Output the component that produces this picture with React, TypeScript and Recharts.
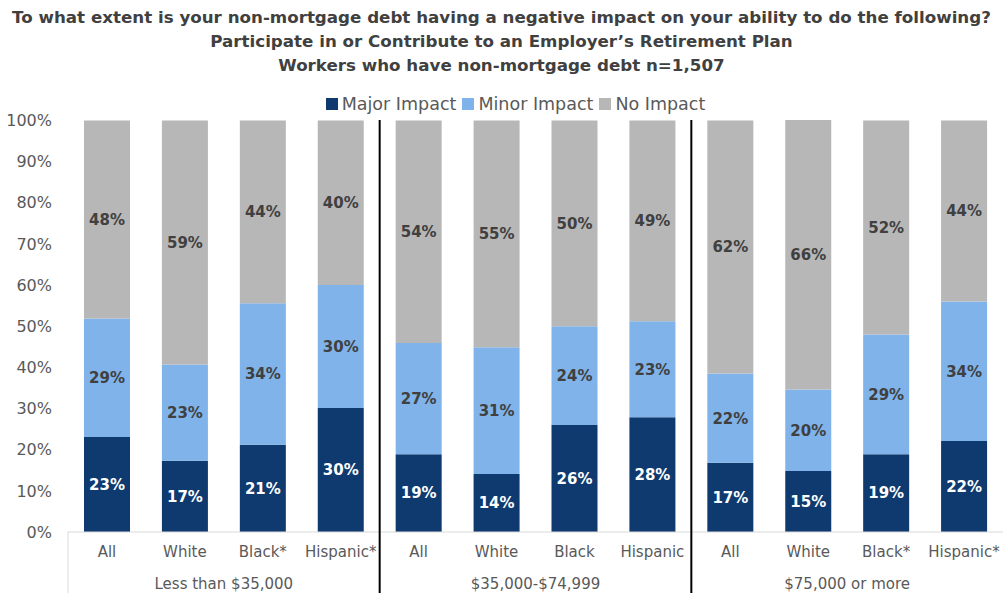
import React from 'react';
import { BarChart, Bar, XAxis, YAxis, LabelList } from 'recharts';

const categories = ['All', 'White', 'Black*', 'Hispanic*', 'All', 'White', 'Black', 'Hispanic', 'All', 'White', 'Black*', 'Hispanic*'];
const groups = [
  'Less than $35,000', 'Less than $35,000', 'Less than $35,000', 'Less than $35,000',
  '$35,000-$74,999', '$35,000-$74,999', '$35,000-$74,999', '$35,000-$74,999',
  '$75,000 or more', '$75,000 or more', '$75,000 or more', '$75,000 or more',
];
const majorImpact = [23.1, 17.3, 21.2, 30.1, 18.9, 14.1, 26.0, 27.9, 16.8, 14.8, 18.9, 22.1];
const minorImpact = [28.8, 23.4, 34.4, 29.9, 27.0, 30.8, 24.0, 23.3, 21.7, 19.8, 29.1, 33.9];
const noImpact = [48.1, 59.3, 44.4, 40.0, 54.1, 55.1, 50.0, 48.8, 61.5, 65.5, 52.0, 44.0];
const yTicks = [0, 10, 20, 30, 40, 50, 60, 70, 80, 90, 100];

const titleLines = [
  'To what extent is your non-mortgage debt having a negative impact on your ability to do the following?',
  'Participate in or Contribute to an Employer\u2019s Retirement Plan',
  'Workers who have non-mortgage debt n=1,507',
];

const seriesInfo = [
  { key: 'major', name: 'Major Impact', color: '#0E3A6F', label: '#FFFFFF' },
  { key: 'minor', name: 'Minor Impact', color: '#7FB3EA', label: '#404040' },
  { key: 'none', name: 'No Impact', color: '#B7B7B7', label: '#404040' },
];

const data = categories.map((c, i) => ({
  cat: c,
  grp: groups[i],
  major: majorImpact[i],
  minor: minorImpact[i],
  none: noImpact[i],
}));

const FONT = '"DejaVu Sans", sans-serif';
const CHART_W = 1003;
const CHART_H = 593;
const PLOT_TOP = 120;
const AXIS1_H = 30;
const AXIS2_H = 31;
const fmt = (v: any) => `${Math.round(Number(v))}%`;

const GroupTick = (props: any) => {
  const { x, y, payload, index, width, visibleTicksCount } = props;
  const count = visibleTicksCount || 3;
  const gw = width / count;
  const left = x - gw / 2;
  return (
    <g>
      {index === 0 ? (
        <line x1={left} x2={left} y1={CHART_H - AXIS1_H - AXIS2_H} y2={CHART_H} stroke="#D9D9D9" strokeWidth={1} />
      ) : (
        <line x1={left} x2={left} y1={PLOT_TOP} y2={CHART_H} stroke="#000000" strokeWidth={2} />
      )}
      <text x={x} y={y} dy="0.71em" textAnchor="middle" fill="#595959" fontSize={15} fontFamily={FONT}>
        {payload.value}
      </text>
    </g>
  );
};

export default function App() {
  return (
    <div style={{ position: 'absolute', left: 0, top: 0, width: CHART_W, height: CHART_H, background: '#fff', fontFamily: FONT }}>
      <div style={{ position: 'absolute', left: 0, top: 5, width: CHART_W, textAlign: 'center', color: '#404040', fontWeight: 'bold', fontSize: 16.7, lineHeight: '24px' }}>
        {titleLines.map((t, i) => (
          <div key={i}>{t}</div>
        ))}
      </div>
      <div style={{ position: 'absolute', left: 17, top: 94, width: CHART_W, display: 'flex', justifyContent: 'center', alignItems: 'center', color: '#595959', fontSize: 17.5 }}>
        {seriesInfo.map((s) => (
          <div key={s.key} style={{ display: 'flex', alignItems: 'center', marginRight: 6 }}>
            <span style={{ display: 'inline-block', width: 12, height: 12, background: s.color, marginRight: 4 }} />
            <span>{s.name}</span>
          </div>
        ))}
      </div>
      <BarChart
        width={CHART_W}
        height={CHART_H}
        data={data}
        margin={{ top: PLOT_TOP, right: 0, left: 0, bottom: 0 }}
        barSize={46}
        style={{ position: 'absolute', left: 0, top: 0 }}
      >
        <XAxis
          xAxisId="cat"
          dataKey="cat"
          height={AXIS1_H}
          tickLine={false}
          axisLine={{ stroke: '#D9D9D9' }}
          tickMargin={8}
          tick={{ fill: '#595959', fontSize: 15, fontFamily: FONT }}
          interval={0}
        />
        <XAxis
          xAxisId="grp"
          dataKey="grp"
          allowDuplicatedCategory={false}
          height={AXIS2_H}
          tickLine={false}
          axisLine={false}
          tickMargin={10}
          tick={<GroupTick />}
          interval={0}
        />
        <YAxis
          width={68}
          domain={[0, 100]}
          ticks={yTicks}
          tickFormatter={(v) => `${v}%`}
          axisLine={false}
          tickLine={false}
          tickMargin={10}
          tick={{ fill: '#595959', fontSize: 16, fontFamily: FONT }}
          interval={0}
        />
        {seriesInfo.map((s) => (
          <Bar key={s.key} xAxisId="cat" dataKey={s.key} name={s.name} stackId="a" fill={s.color} isAnimationActive={false}>
            <LabelList dataKey={s.key} position="center" formatter={fmt} fill={s.label} fontWeight="bold" fontSize={15} fontFamily={FONT} />
          </Bar>
        ))}
      </BarChart>
    </div>
  );
}
